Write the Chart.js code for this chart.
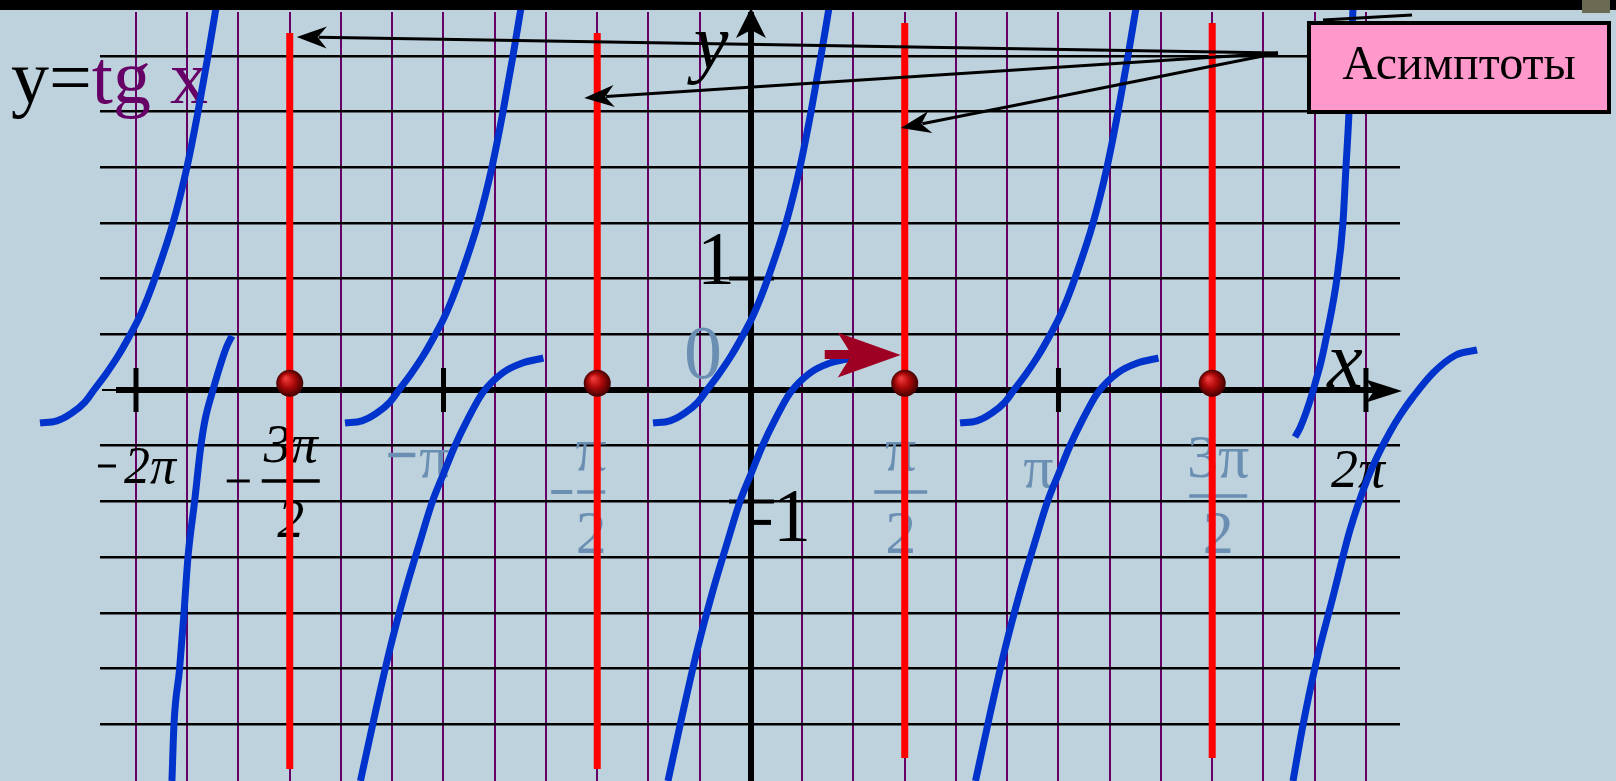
<!DOCTYPE html>
<html>
<head>
<meta charset="utf-8">
<title>y=tg x</title>
<script src="https://cdn.jsdelivr.net/npm/chart.js@4.4.1/dist/chart.umd.min.js"></script>
<style>
  html, body { margin: 0; padding: 0; background: #bed2dd; overflow: hidden; }
  canvas { display: block; }
</style>
</head>
<body>
<canvas id="chart" width="1616" height="781"></canvas>
<script>
const PI = Math.PI;

// vertical asymptotes x = ±π/2, ±3π/2 and where their red lines end (y units)
const asymptoteX = [-3 * PI / 2, -PI / 2, PI / 2, 3 * PI / 2];
const asymptoteTop = [3.205, 3.205, 3.294, 3.294];
const asymptoteBottom = [-3.402, -3.402, -3.303, -3.303];

// labelled ticks on the axes
const xTickValues = [-2 * PI, -3 * PI / 2, -PI, -PI / 2, PI / 2, PI, 3 * PI / 2, 2 * PI];
const xTickLabels = ["−2π", "−3π/2", "−π", "−π/2", "π/2", "π", "3π/2", "2π"];
const yTickValues = [1, -1];
const yTickLabels = ["1", "-1"];

// blue branches of the graph, [x, y]
const branchA1 = [[-7.264, -0.296], [-7.091, -0.278], [-6.937, -0.206], [-6.805, -0.108], [-6.713, 0], [-6.590, 0.144], [-6.467, 0.305], [-6.355, 0.476], [-6.253, 0.646], [-6.161, 0.835], [-6.089, 1.005], [-5.905, 1.499], [-5.762, 2.002], [-5.650, 2.496], [-5.548, 2.998], [-5.466, 3.429]];
const branchA2 = [[-4.148, -0.296], [-3.975, -0.278], [-3.821, -0.206], [-3.689, -0.108], [-3.597, 0], [-3.474, 0.144], [-3.351, 0.305], [-3.239, 0.476], [-3.137, 0.646], [-3.045, 0.835], [-2.973, 1.005], [-2.789, 1.499], [-2.646, 2.002], [-2.534, 2.496], [-2.432, 2.998], [-2.350, 3.429]];
const branchA3 = [[-1.001, -0.296], [-0.828, -0.278], [-0.674, -0.206], [-0.542, -0.108], [-0.450, 0], [-0.327, 0.144], [-0.204, 0.305], [-0.092, 0.476], [0.010, 0.646], [0.102, 0.835], [0.174, 1.005], [0.358, 1.499], [0.501, 2.002], [0.613, 2.496], [0.715, 2.998], [0.797, 3.429]];
const branchA4 = [[2.136, -0.296], [2.309, -0.278], [2.463, -0.206], [2.595, -0.108], [2.687, 0], [2.810, 0.144], [2.933, 0.305], [3.045, 0.476], [3.147, 0.646], [3.239, 0.835], [3.311, 1.005], [3.495, 1.499], [3.638, 2.002], [3.750, 2.496], [3.852, 2.998], [3.934, 3.429]];
const branchA5 = [[5.558, -0.422], [5.609, -0.341], [5.670, -0.206], [5.742, -0.009], [5.773, 0.090], [5.824, 0.251], [5.885, 0.503], [5.987, 1.005], [6.048, 1.499], [6.079, 2.002], [6.110, 2.496], [6.130, 2.998], [6.151, 3.429]];
const branchB1 = [[-5.916, -3.510], [-5.895, -2.998], [-5.838, -2.505], [-5.793, -2.002], [-5.752, -1.499], [-5.685, -1.005], [-5.622, -0.512], [-5.578, -0.269], [-5.497, 0], [-5.405, 0.269], [-5.354, 0.395], [-5.303, 0.485]];
const branchB2 = [[-3.990, -3.510], [-3.837, -2.891], [-3.689, -2.325], [-3.535, -1.813], [-3.392, -1.391], [-3.249, -0.987], [-3.142, -0.754], [-3.030, -0.512], [-2.897, -0.269], [-2.743, -0.027], [-2.539, 0.153], [-2.335, 0.242], [-2.121, 0.287]];
const branchB3 = [[-0.848, -3.510], [-0.695, -2.891], [-0.547, -2.325], [-0.393, -1.813], [-0.250, -1.391], [-0.107, -0.987], [0, -0.754], [0.112, -0.512], [0.245, -0.269], [0.399, -0.027], [0.603, 0.153], [0.807, 0.242], [1.021, 0.287]];
const branchB4 = [[2.294, -3.510], [2.447, -2.891], [2.595, -2.325], [2.749, -1.813], [2.892, -1.391], [3.035, -0.987], [3.142, -0.754], [3.254, -0.512], [3.387, -0.269], [3.541, -0.027], [3.745, 0.153], [3.949, 0.242], [4.163, 0.287]];
const branchB5 = [[5.538, -3.510], [5.630, -3.052], [5.773, -2.451], [5.946, -1.858], [6.120, -1.257], [6.294, -0.808], [6.406, -0.583], [6.529, -0.377], [6.641, -0.215], [6.764, -0.063], [6.968, 0.153], [7.203, 0.314], [7.418, 0.359]];

const branches = [branchA1, branchA2, branchA3, branchA4, branchA5, branchB1, branchB2, branchB3, branchB4, branchB5];

const SERIF = "'Liberation Serif', 'Times New Roman', serif";
const PALE = "#6b8fb3";
const PURPLE = "#660066";

// how each x tick label is set (offsets from the tick, in px)
const tickLabelStyle = [
  { color: "#000", italic: true, size: 52, dx: 14, dy: 93, mw: 18, mgap: 8, mrise: 17, mth: 3 },
  { color: "#000", italic: true, size: 54, dx: 1, dy: 91, barW: 58, num: -19, den: 56, mw: 23, mgap: 12, mth: 3 },
  { color: PALE, italic: false, size: 60, dx: -9, dy: 87, mw: 27, mgap: 4, mrise: 22, mth: 4.5 },
  { color: PALE, italic: false, size: 62, dx: -6, dy: 102, barW: 28, num: -22, den: 61, mw: 21, mgap: 5, mth: 4 },
  { color: PALE, italic: false, size: 62, dx: -4, dy: 102, barW: 53, num: -22, den: 61 },
  { color: PALE, italic: false, size: 60, dx: -20, dy: 97 },
  { color: PALE, italic: false, size: 62, dx: 6, dy: 106, barW: 58, num: -19, den: 57 },
  { color: "#000", italic: true, size: 54, dx: -8, dy: 97 }
];

function seg(ctx, x1, y1, x2, y2) {
  ctx.beginPath();
  ctx.moveTo(x1, y1);
  ctx.lineTo(x2, y2);
  ctx.stroke();
}

// filled arrow head with a notched back
function arrowHead(ctx, tipX, tipY, angle, len, half, notch) {
  ctx.save();
  ctx.translate(tipX, tipY);
  ctx.rotate(angle);
  ctx.beginPath();
  ctx.moveTo(0, 0);
  ctx.lineTo(-len, -half);
  ctx.lineTo(-len + notch, 0);
  ctx.lineTo(-len, half);
  ctx.closePath();
  ctx.fill();
  ctx.restore();
}

function pointerArrow(ctx, fromX, fromY, tipX, tipY) {
  const a = Math.atan2(tipY - fromY, tipX - fromX);
  ctx.lineWidth = 3;
  seg(ctx, fromX, fromY, tipX - Math.cos(a) * 22, tipY - Math.sin(a) * 22);
  arrowHead(ctx, tipX, tipY, a, 30, 11, 9);
}

function drawTickLabel(ctx, text, tickPx, axisPx, st) {
  ctx.font = (st.italic ? "italic " : "") + st.size + "px " + SERIF;
  ctx.fillStyle = st.color;
  ctx.textAlign = "center";
  ctx.textBaseline = "alphabetic";
  const neg = text.startsWith("−");
  const body = neg ? text.slice(1) : text;
  const cx = tickPx + st.dx;
  if (body.includes("/")) {
    const [num, den] = body.split("/");
    const barY = axisPx + st.dy;
    ctx.fillText(num, cx, barY + st.num);
    ctx.fillText(den, cx, barY + st.den);
    ctx.fillRect(cx - st.barW / 2, barY - 1.75, st.barW, 3.5);
    if (neg) {
      const right = cx - st.barW / 2 - st.mgap;
      ctx.fillRect(right - st.mw, barY - st.mth / 2, st.mw, st.mth);
    }
  } else {
    const base = axisPx + st.dy;
    ctx.fillText(body, cx, base);
    if (neg) {
      const w = ctx.measureText(body).width;
      const right = cx - w / 2 - st.mgap;
      ctx.fillRect(right - st.mw, base - st.mrise - st.mth / 2, st.mw, st.mth);
    }
  }
}

const slideDecor = {
  id: "slideDecor",
  beforeDatasetsDraw(chart) {
    const { ctx, scales: { x, y } } = chart;
    const ox = x.getPixelForValue(0);
    const oy = y.getPixelForValue(0);
    ctx.save();
    ctx.fillStyle = "#000";
    ctx.strokeStyle = "#000";

    // x axis with arrow
    ctx.lineWidth = 2;
    seg(ctx, chart.chartArea.left + 2, oy, 118, oy);
    ctx.lineWidth = 6;
    seg(ctx, 116, oy, 1380, oy);
    arrowHead(ctx, 1402, oy + 1, 0, 36, 11.5, 8);
    // y axis arrow head
    arrowHead(ctx, ox, 8, -PI / 2, 30, 15, 8);

    // tick marks at ±π, ±2π
    ctx.lineWidth = 5;
    [-2 * PI, -PI, PI, 2 * PI].forEach(v => {
      const px = x.getPixelForValue(v);
      seg(ctx, px, oy - 22, px, oy + 22);
    });
    // tick marks at y = ±1
    ctx.lineWidth = 4;
    yTickValues.forEach(v => {
      const py = y.getPixelForValue(v);
      seg(ctx, ox - 22, py, ox + 23, py);
    });

    // x tick labels
    xTickLabels.forEach((t, i) => {
      drawTickLabel(ctx, t, x.getPixelForValue(xTickValues[i]), oy, tickLabelStyle[i]);
    });

    // y tick labels
    ctx.font = "76px " + SERIF;
    ctx.fillStyle = "#000";
    ctx.textAlign = "center";
    const p1 = y.getPixelForValue(yTickValues[0]);
    ctx.fillText(yTickLabels[0], ox - 35, p1 + 5);
    const pm1 = y.getPixelForValue(yTickValues[1]);
    ctx.fillText(yTickLabels[1].slice(1), ox + 41, pm1 + 40);
    ctx.fillRect(ox + 1, pm1 + 18.5, 19, 5);

    // origin
    ctx.fillStyle = PALE;
    ctx.fillText("0", ox - 48, oy - 12);

    // axis names
    ctx.fillStyle = "#000";
    ctx.font = "italic 78px " + SERIF;
    ctx.fillText("y", ox - 40, 68);
    ctx.font = "italic 80px " + SERIF;
    ctx.fillText("x", ox + 594, oy - 3);

    // title
    ctx.textAlign = "left";
    ctx.font = "76px " + SERIF;
    ctx.fillStyle = "#000";
    ctx.fillText("y=", 11, 103);
    const w = ctx.measureText("y=").width;
    ctx.fillStyle = PURPLE;
    ctx.fillText("tg x", 11 + w, 103);
    ctx.restore();
  },
  afterDatasetsDraw(chart) {
    const { ctx, scales: { x, y } } = chart;
    ctx.save();

    // red dots where the asymptotes meet the x axis
    asymptoteX.forEach(v => {
      const px = x.getPixelForValue(v);
      const py = y.getPixelForValue(0.06);
      const g = ctx.createRadialGradient(px - 4, py - 5, 1, px, py, 14);
      g.addColorStop(0, "#ee3a3a");
      g.addColorStop(0.45, "#b00a0a");
      g.addColorStop(1, "#3a0000");
      ctx.fillStyle = g;
      ctx.beginPath();
      ctx.arc(px, py, 13.5, 0, 2 * PI);
      ctx.fill();
    });

    // dark red pointer to the asymptote x = π/2
    const ax = x.getPixelForValue(PI / 2);
    ctx.fillStyle = "#9e0024";
    ctx.fillRect(ax - 80, 350, 30, 9);
    arrowHead(ctx, ax - 4, 355, 0, 63, 22.5, 14);

    // arrows from the label to the asymptotes
    ctx.fillStyle = "#000";
    ctx.strokeStyle = "#000";
    pointerArrow(ctx, 1278, 53, x.getPixelForValue(asymptoteX[0]) + 7, 37);
    pointerArrow(ctx, 1278, 53, x.getPixelForValue(asymptoteX[1]) - 13, 98);
    pointerArrow(ctx, 1278, 53, x.getPixelForValue(asymptoteX[2]) - 4, 128);
    ctx.lineWidth = 3;
    seg(ctx, 1323, 20, 1412, 15);

    // label box
    ctx.fillStyle = "#ff99cc";
    ctx.fillRect(1307, 21, 304, 93);
    ctx.lineWidth = 4;
    ctx.strokeRect(1309, 23, 300, 89);
    ctx.fillStyle = "#000";
    ctx.font = "48px " + SERIF;
    ctx.textAlign = "center";
    ctx.fillText("Асимптоты", 1459, 79);

    // slide top edge
    ctx.fillStyle = "#000";
    ctx.fillRect(0, 0, chart.width, 10);
    ctx.fillStyle = "#6b6a52";
    ctx.fillRect(1582, 0, 28, 13);
    ctx.restore();
  }
};

// points handed over right-to-left so that parts outside the x range are kept
const toPoints = arr => arr.map(([px, py]) => ({ x: px, y: py })).reverse();

const datasets = [];

branches.forEach(b => {
  datasets.push({
    data: toPoints(b),
    showLine: true,
    borderColor: "#0033cc",
    borderWidth: 7,
    borderCapStyle: "butt",
    pointRadius: 0,
    cubicInterpolationMode: "monotone",
    clip: false,
    order: 1
  });
});

asymptoteX.forEach((v, i) => {
  datasets.push({
    data: [{ x: v, y: asymptoteTop[i] }, { x: v, y: asymptoteBottom[i] }],
    showLine: true,
    borderColor: "#ff0000",
    borderWidth: 7,
    borderCapStyle: "butt",
    pointRadius: 0,
    clip: false,
    order: 2
  });
});

const xGrid = [];
for (let k = -12; k <= 12; k++) xGrid.push(k * PI / 6);
const yGrid = [];
for (let k = -6; k <= 6; k++) yGrid.push(k / 2);

new Chart(document.getElementById("chart"), {
  type: "scatter",
  data: { datasets },
  options: {
    responsive: false,
    devicePixelRatio: 1,
    animation: false,
    layout: { padding: { left: 100, right: 216, top: 12, bottom: 0 } },
    plugins: { legend: { display: false }, tooltip: { enabled: false } },
    scales: {
      x: {
        type: "linear",
        min: -6.651,
        max: 6.631,
        afterBuildTicks: s => { s.ticks = xGrid.map(v => ({ value: v })); },
        ticks: { display: false },
        border: { display: false },
        grid: {
          drawTicks: false,
          color: c => (c.tick && Math.abs(c.tick.value) < 1e-9 ? "#000" : PURPLE),
          lineWidth: c => (c.tick && Math.abs(c.tick.value) < 1e-9 ? 6 : 2)
        }
      },
      y: {
        type: "linear",
        min: -3.510,
        max: 3.393,
        afterBuildTicks: s => { s.ticks = yGrid.map(v => ({ value: v })); },
        ticks: { display: false },
        border: { display: false },
        grid: {
          drawTicks: false,
          color: c => (c.tick && Math.abs(c.tick.value) < 1e-9 ? "rgba(0,0,0,0)" : "#000"),
          lineWidth: 2.5
        }
      }
    }
  },
  plugins: [slideDecor]
});
</script>
</body>
</html>
